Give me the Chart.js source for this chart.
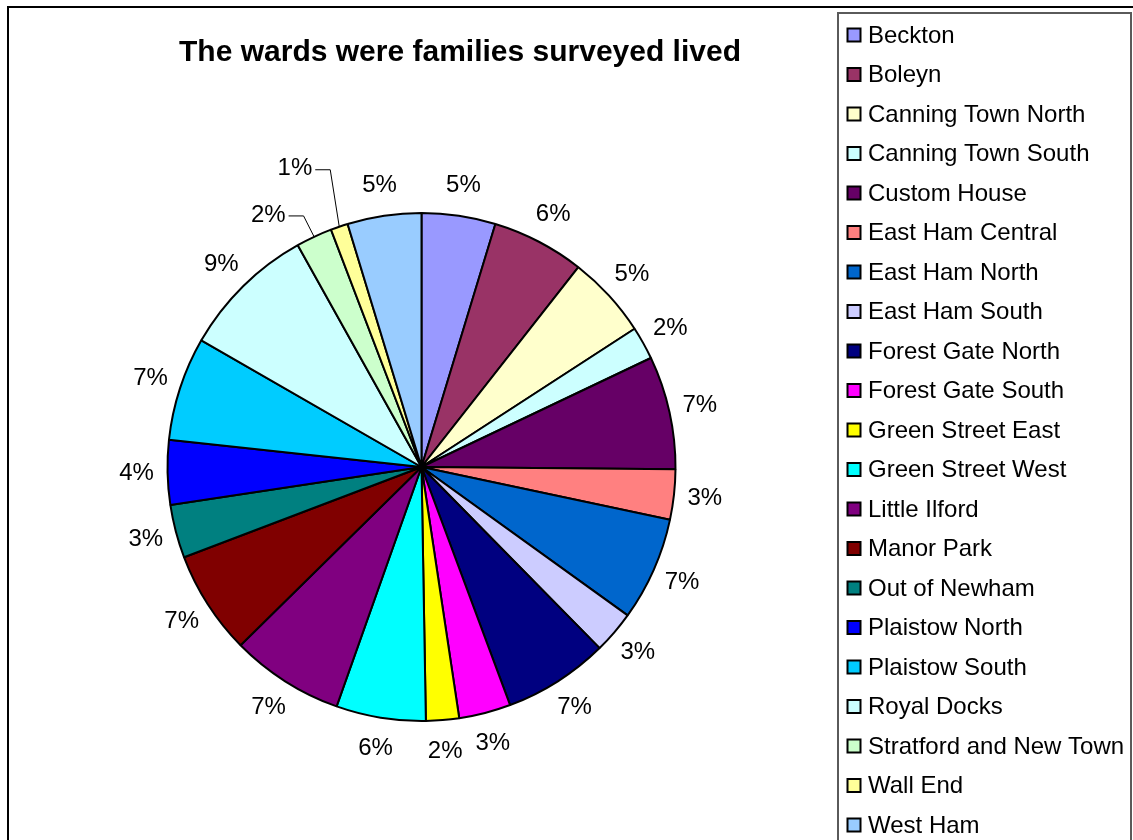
<!DOCTYPE html>
<html>
<head>
<meta charset="utf-8">
<title>Wards</title>
<script src="https://cdn.jsdelivr.net/npm/chart.js@4.4.1/dist/chart.umd.min.js"></script>
<style>
    html, body { margin: 0; padding: 0; background: #ffffff; }
    canvas { display: block; }
</style>
</head>
<body>
<canvas id="wardChart" width="1133" height="840"></canvas>
<script>
// Wards, in legend order (clockwise from 12 o'clock)
const wards = [
    'Beckton', 'Boleyn', 'Canning Town North', 'Canning Town South', 'Custom House',
    'East Ham Central', 'East Ham North', 'East Ham South', 'Forest Gate North',
    'Forest Gate South', 'Green Street East', 'Green Street West', 'Little Ilford',
    'Manor Park', 'Out of Newham', 'Plaistow North', 'Plaistow South', 'Royal Docks',
    'Stratford and New Town', 'Wall End', 'West Ham'
];

// Share of families
const shares = [
    4.7, 5.9, 5.25, 2.1, 7.2,
    3.2, 6.6, 2.7, 6.7,
    3.3, 2.1, 5.7, 7.2,
    6.6, 3.4, 4.1, 6.6, 8.6,
    2.3, 1.1, 4.7
];

// Excel 2003 palette colours
const sliceColors = [
    '#9999FF', '#993366', '#FFFFCC', '#CCFFFF', '#660066',
    '#FF8080', '#0066CC', '#CCCCFF', '#000080',
    '#FF00FF', '#FFFF00', '#00FFFF', '#800080',
    '#800000', '#008080', '#0000FF', '#00CCFF', '#CCFFFF',
    '#CCFFCC', '#FFFF99', '#99CCFF'
];

const chartTitle = 'The wards were families surveyed lived';
const FONT = "'Liberation Sans', Arial, Helvetica, sans-serif";

// Draws frames, title, percentage labels and the legend box
const excelLook = {
    id: 'excelLook',
    afterDraw(chart, args, opts) {
        const ctx = chart.ctx;
        const meta = chart.getDatasetMeta(0);
        const data = chart.data.datasets[0].data;
        const total = data.reduce((a, b) => a + b, 0);

        ctx.save();

        // outer chart frame
        ctx.strokeStyle = '#000';
        ctx.lineWidth = 2;
        ctx.strokeRect(8, 7, 1300, 1000);

        // title
        ctx.fillStyle = '#000';
        ctx.font = 'bold 30px ' + FONT;
        ctx.textAlign = 'center';
        ctx.textBaseline = 'middle';
        ctx.fillText(chartTitle, 460, 53);

        // percentage labels
        ctx.font = '24px ' + FONT;
        meta.data.forEach(function (arc, i) {
            const p = arc.getProps(['x', 'y', 'startAngle', 'endAngle', 'outerRadius'], true);
            const mid = (p.startAngle + p.endAngle) / 2;
            const text = Math.round(data[i] / total * 100) + '%';
            const call = opts.callouts[i];
            if (call) {
                const a = (call.angle - 90) * Math.PI / 180;
                const lx = p.x + Math.cos(a) * call.radius;
                const ly = p.y + Math.sin(a) * call.radius;
                ctx.fillText(text, lx, ly);
                const w = ctx.measureText(text).width;
                const sx = lx + w / 2 + 3;
                ctx.strokeStyle = '#000';
                ctx.lineWidth = 1;
                ctx.beginPath();
                ctx.moveTo(sx, ly + 1);
                ctx.lineTo(sx + 15, ly + 1);
                ctx.lineTo(p.x + Math.cos(mid) * p.outerRadius, p.y + Math.sin(mid) * p.outerRadius);
                ctx.stroke();
            } else {
                const r = p.outerRadius + opts.labelGap;
                ctx.fillText(text, p.x + Math.cos(mid) * r, p.y + Math.sin(mid) * r);
            }
        });

        // legend box
        ctx.strokeStyle = '#5a5a5a';
        ctx.lineWidth = 2;
        ctx.strokeRect(838, 13, 293, 900);

        ctx.font = '24px ' + FONT;
        ctx.textAlign = 'left';
        chart.data.labels.forEach(function (label, i) {
            const cy = 35 + i * 39.5;
            ctx.fillStyle = chart.data.datasets[0].backgroundColor[i];
            ctx.fillRect(847.5, cy - 6.5, 13, 13);
            ctx.strokeStyle = '#000';
            ctx.lineWidth = 2;
            ctx.strokeRect(847.5, cy - 6.5, 13, 13);
            ctx.fillStyle = '#000';
            ctx.fillText(label, 868, cy + 1);
        });

        ctx.restore();
    }
};

const ctx = document.getElementById('wardChart').getContext('2d');

window.wardChart = new Chart(ctx, {
    type: 'pie',
    data: {
        labels: wards,
        datasets: [{
            data: shares,
            backgroundColor: sliceColors,
            borderColor: '#000000',
            borderWidth: 2
        }]
    },
    options: {
        responsive: false,
        animation: false,
        layout: {
            padding: { left: 166, right: 456, top: 212, bottom: 118 }
        },
        plugins: {
            legend: { display: false },
            title: { display: false },
            excelLook: {
                labelGap: 31,
                callouts: {
                    18: { angle: 328.7, radius: 295 },
                    19: { angle: 337, radius: 324 }
                }
            }
        }
    },
    plugins: [excelLook]
});
</script>
</body>
</html>
